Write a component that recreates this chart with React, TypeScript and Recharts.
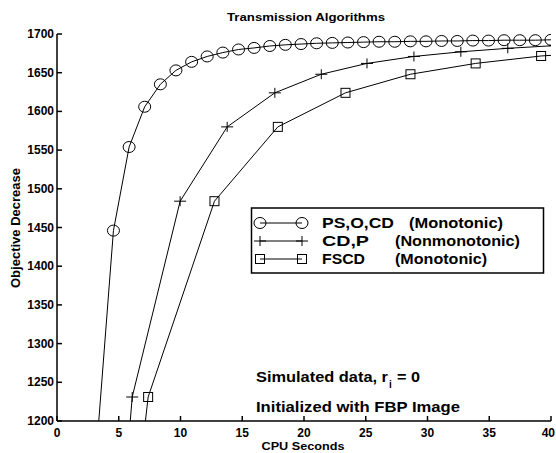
import { LineChart, Line, XAxis, YAxis } from 'recharts';

// CPU seconds axis and objective axis ticks
const xTicks = [0, 5, 10, 15, 20, 25, 30, 35, 40];
const yTicks = [1200, 1250, 1300, 1350, 1400, 1450, 1500, 1550, 1600, 1650, 1700];

// PS,O,CD (Monotonic) - circles
const psTime = [3.3, 4.57, 5.84, 7.1, 8.37, 9.63, 10.9, 12.16, 13.43, 14.7, 15.96, 17.23, 18.49, 19.76, 21.02, 22.29, 23.55, 24.82, 26.08, 27.35, 28.61, 29.88, 31.14, 32.41, 33.67, 34.94, 36.2, 37.47, 38.73, 40.0];
const psObj = [1183, 1446, 1554, 1606, 1635, 1653, 1664, 1671, 1676, 1680, 1682, 1684.5, 1686, 1687, 1688, 1688.5, 1689, 1689.5, 1690, 1690, 1690.5, 1690.5, 1691, 1691, 1691.5, 1691.5, 1692, 1692, 1692, 1692.5];

// CD,P (Nonmonotonic) - plus signs
const cdTime = [2.3, 6.09, 9.97, 13.78, 17.64, 21.4, 25.1, 28.9, 32.7, 36.5, 40.3];
const cdObj = [490, 1231, 1484, 1580, 1624, 1648, 1662, 1671, 1677, 1681.5, 1685];

// FSCD (Monotonic) - squares
const fsTime = [2.1, 7.38, 12.75, 17.88, 23.36, 28.62, 33.9, 39.2, 44.5];
const fsObj = [490, 1231, 1484, 1580, 1624, 1648, 1662, 1671.6, 1677];

const toPoints = (xs: number[], ys: number[]) => xs.map((x, i) => ({ x, y: ys[i] }));
const psData = toPoints(psTime, psObj);
const cdData = toPoints(cdTime, cdObj);
const fsData = toPoints(fsTime, fsObj);

const FONT = '"Liberation Sans", Arial, Helvetica, sans-serif';

const CircleDot = (p: any) =>
  p.cx == null ? null : <ellipse key={p.key} cx={p.cx} cy={p.cy} rx={6} ry={5.5} fill="none" stroke="#000" strokeWidth={1} />;
const PlusDot = (p: any) =>
  p.cx == null ? null : (
    <path key={p.key} d={`M${p.cx - 6},${p.cy}H${p.cx + 6}M${p.cx},${p.cy - 5}V${p.cy + 5}`} stroke="#000" strokeWidth={1} />
  );
const SquareDot = (p: any) =>
  p.cx == null ? null : <rect key={p.key} x={p.cx - 4.5} y={p.cy - 4.5} width={9} height={9} fill="none" stroke="#000" strokeWidth={1} />;

const BottomTick = ({ x, y, payload }: any) => {
  // the last label sits flush with the right edge, as in the original
  const last = payload.value === xTicks[xTicks.length - 1];
  return (
    <g>
      <line x1={x} y1={y} x2={x} y2={y - 5} stroke="#000" strokeWidth={1.5} />
      <text
        x={last ? x + 4 : x}
        y={y + 16}
        textAnchor={last ? 'end' : 'middle'}
        fontSize={12}
        fontWeight="bold"
        fontFamily={FONT}
        fill="#000"
      >
        {payload.value}
      </text>
    </g>
  );
};
const TopTick = ({ x, y }: any) => <line x1={x} y1={y} x2={x} y2={y + 5} stroke="#000" strokeWidth={1.5} />;
const LeftTick = ({ x, y, payload }: any) => (
  <g>
    <line x1={x} y1={y} x2={x + 5} y2={y} stroke="#000" strokeWidth={1.5} />
    <text x={x - 3} y={y + 4} textAnchor="end" fontSize={12} fontWeight="bold" fontFamily={FONT} fill="#000">
      {payload.value}
    </text>
  </g>
);
const RightTick = ({ x, y }: any) => <line x1={x} y1={y} x2={x - 5} y2={y} stroke="#000" strokeWidth={1.5} />;

const legendRows = [
  { name: 'PS,O,CD', note: '(Monotonic)', noteX: 409, nameLen: 72, noteLen: 94, mark: 'circle' },
  { name: 'CD,P', note: '(Nonmonotonic)', noteX: 395, nameLen: 47, noteLen: 125, mark: 'plus' },
  { name: 'FSCD', note: '(Monotonic)', noteX: 395, nameLen: 43, noteLen: 92, mark: 'square' },
];

function Marker({ kind, cx, cy }: { kind: string; cx: number; cy: number }) {
  if (kind === 'circle') return <CircleDot cx={cx} cy={cy} />;
  if (kind === 'plus') return <PlusDot cx={cx} cy={cy} />;
  return <SquareDot cx={cx} cy={cy} />;
}

function Overlay() {
  const txt = { fontFamily: FONT, fontWeight: 'bold' as const, fill: '#000' };
  return (
    <svg width={556} height={453} style={{ position: 'absolute', left: 0, top: 0, pointerEvents: 'none' }}>
      <text x={306} y={21} textAnchor="middle" fontSize={11} textLength={158} lengthAdjust="spacingAndGlyphs" {...txt}>
        Transmission Algorithms
      </text>
      <text x={303} y={450} textAnchor="middle" fontSize={11} textLength={83} lengthAdjust="spacingAndGlyphs" {...txt}>
        CPU Seconds
      </text>
      <text
        transform="translate(19.5,228) rotate(-90)"
        textAnchor="middle"
        fontSize={12}
        textLength={120}
        lengthAdjust="spacingAndGlyphs"
        {...txt}
      >
        Objective Decrease
      </text>

      <rect x={251.5} y={208} width={292} height={65} fill="#fff" stroke="#000" strokeWidth={1.5} />
      {legendRows.map((r, i) => {
        const cy = 223 + i * 18;
        return (
          <g key={r.name}>
            <line x1={260} y1={cy} x2={302} y2={cy} stroke="#000" strokeWidth={1} />
            <Marker kind={r.mark} cx={260} cy={cy} />
            <Marker kind={r.mark} cx={302} cy={cy} />
            <text x={322} y={cy + 5} fontSize={14} textLength={r.nameLen} lengthAdjust="spacingAndGlyphs" {...txt}>
              {r.name}
            </text>
            <text x={r.noteX} y={cy + 5} fontSize={14} textLength={r.noteLen} lengthAdjust="spacingAndGlyphs" {...txt}>
              {r.note}
            </text>
          </g>
        );
      })}

      <text x={256} y={382} fontSize={14} textLength={132} lengthAdjust="spacingAndGlyphs" {...txt}>
        Simulated data, r
      </text>
      <text x={389} y={388} fontSize={10} {...txt}>
        i
      </text>
      <text x={397} y={382} fontSize={14} textLength={23} lengthAdjust="spacingAndGlyphs" {...txt}>
        = 0
      </text>
      <text x={256} y={412} fontSize={14} textLength={204} lengthAdjust="spacingAndGlyphs" {...txt}>
        Initialized with FBP Image
      </text>
    </svg>
  );
}

export default function App() {
  return (
    <div style={{ position: 'absolute', left: 0, top: 0, width: 556, height: 453, background: '#fff' }}>
      <LineChart width={556} height={453} margin={{ top: 34, right: 5, bottom: 0, left: 0 }}>
        <XAxis
          type="number"
          dataKey="x"
          domain={[0, 40]}
          ticks={xTicks}
          interval={0}
          allowDataOverflow
          height={32}
          tickSize={0}
          tickMargin={0}
          tickLine={false}
          tick={<BottomTick />}
          axisLine={{ stroke: '#000', strokeWidth: 1.5 }}
        />
        <XAxis
          xAxisId="top"
          orientation="top"
          type="number"
          dataKey="x"
          domain={[0, 40]}
          ticks={xTicks}
          interval={0}
          allowDataOverflow
          height={0}
          tickSize={0}
          tickMargin={0}
          tickLine={false}
          tick={<TopTick />}
          axisLine={{ stroke: '#000', strokeWidth: 1.5 }}
        />
        <YAxis
          type="number"
          domain={[1200, 1700]}
          ticks={yTicks}
          interval={0}
          allowDataOverflow
          width={57}
          tickSize={0}
          tickMargin={0}
          tickLine={false}
          tick={<LeftTick />}
          axisLine={{ stroke: '#000', strokeWidth: 1.5 }}
        />
        <YAxis
          yAxisId="right"
          orientation="right"
          type="number"
          domain={[1200, 1700]}
          ticks={yTicks}
          interval={0}
          allowDataOverflow
          width={0}
          tickSize={0}
          tickMargin={0}
          tickLine={false}
          tick={<RightTick />}
          axisLine={{ stroke: '#000', strokeWidth: 1.5 }}
        />
        <Line data={psData} dataKey="y" stroke="#000" strokeWidth={1} dot={<CircleDot />} isAnimationActive={false} />
        <Line data={cdData} dataKey="y" stroke="#000" strokeWidth={1} dot={<PlusDot />} isAnimationActive={false} />
        <Line data={fsData} dataKey="y" stroke="#000" strokeWidth={1} dot={<SquareDot />} isAnimationActive={false} />
      </LineChart>
      <Overlay />
    </div>
  );
}
